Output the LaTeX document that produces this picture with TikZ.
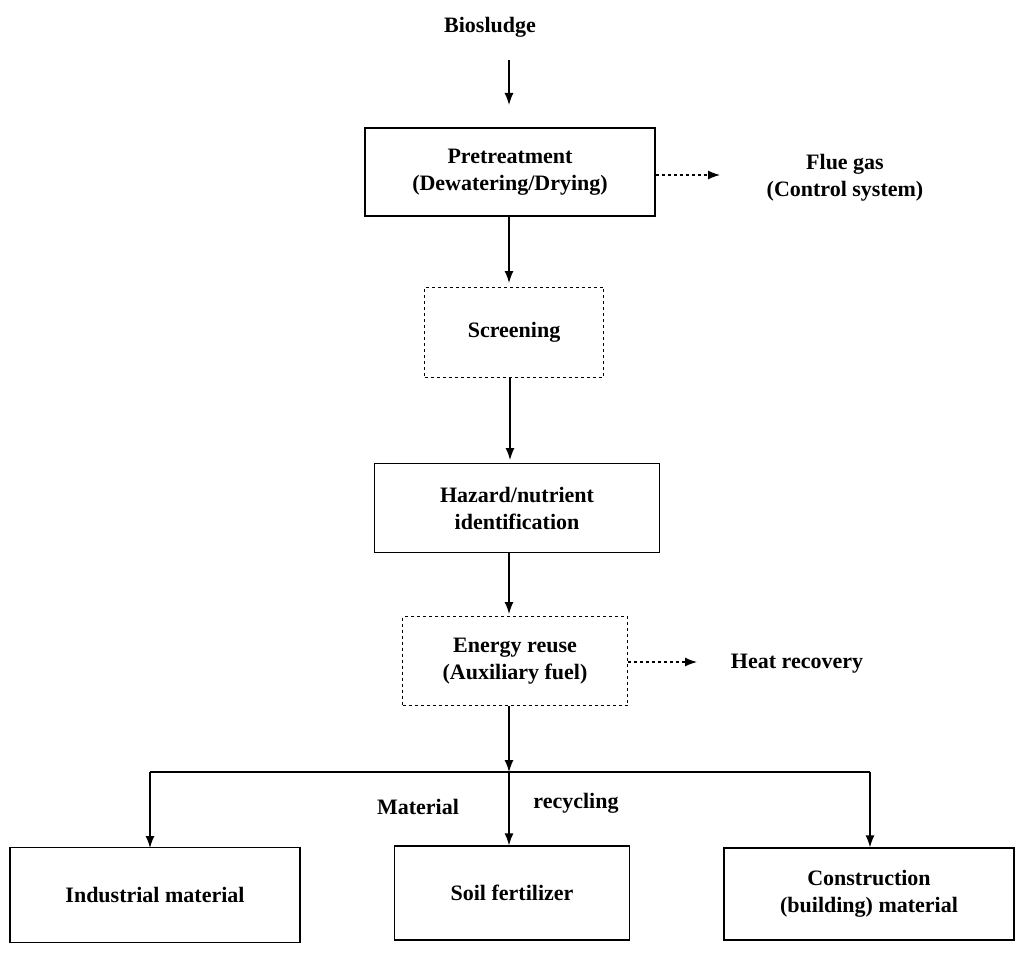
\documentclass[tikz,border=0pt]{standalone}
\usepackage{fontspec}
\setmainfont{Liberation Serif}
\usetikzlibrary{arrows.meta}
\begin{document}
\begin{tikzpicture}[x=1pt,y=-1pt,
  box/.style={draw,line width=1.3pt,align=center,font=\fontsize{22}{27}\selectfont\bfseries,inner sep=0pt},
  dbox/.style={box,dashed,line width=1pt},
  txt/.style={align=center,font=\fontsize{22}{27}\selectfont\bfseries},
  arr/.style={-{Latex[length=12pt,width=9pt]},line width=1.3pt},
  darr/.style={arr,dashed}]
\useasboundingbox (0,0) rectangle (1024,955);
\node[txt] (bio) at (490,27) {Biosludge};
\node[box,minimum width=290pt,minimum height=88pt] (pre) at (510,172) {Pretreatment\\(Dewatering/Drying)};
\node[txt] (flue) at (845,178) {Flue gas\\(Control system)};
\node[dbox,minimum width=179pt,minimum height=90pt] (scr) at (514,332) {Screening};
\node[box,minimum width=285pt,minimum height=89pt] (haz) at (517,508) {Hazard/nutrient\\identification};
\node[dbox,minimum width=225pt,minimum height=89pt] (en) at (515,661) {Energy reuse\\(Auxiliary fuel)};
\node[txt] (heat) at (797,664) {Heat recovery};
\node[txt] (mat) at (418,807) {Material};
\node[txt] (rec) at (576,803) {recycling};
\node[box,minimum width=290pt,minimum height=95pt] (ind) at (155,895) {Industrial material};
\node[box,minimum width=235pt,minimum height=94pt] (soil) at (512,893) {Soil fertilizer};
\node[box,minimum width=290pt,minimum height=92pt] (con) at (869,894) {Construction\\(building) material};
\coordinate (t0) at (509,60);
\coordinate (L) at (150,772);
\coordinate (M) at (509,772);
\coordinate (R) at (870,772);
\draw[arr] (t0) -- (509,105);
\draw[arr] (509,216) -- (509,283);
\draw[darr] (pre.east |- 0,175) -- (720,175);
\draw[arr] (510,377) -- (510,460);
\draw[arr] (509,552) -- (509,614);
\draw[darr] (en.east |- 0,662) -- (697,662);
\draw[arr] (509,706) -- (M);
\draw[line width=1.3pt] (L) -- (R);
\draw[arr] (L) -- (150,848);
\draw[arr] (M) -- (soil.north -| M);
\draw[arr] (R) -- (con.north -| R);
\end{tikzpicture}
\end{document}
